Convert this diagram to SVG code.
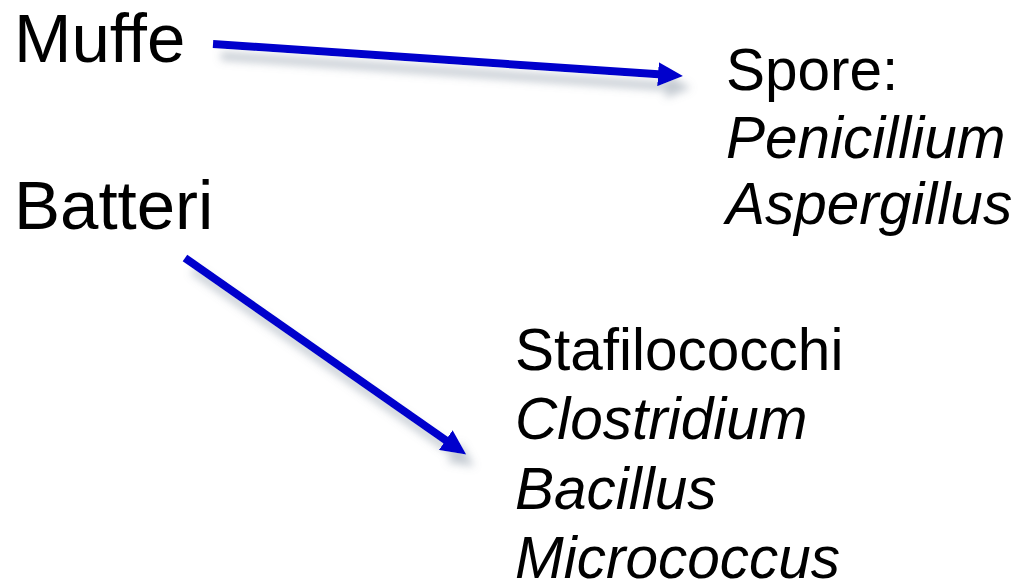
<svg xmlns="http://www.w3.org/2000/svg" width="1019" height="586" viewBox="0 0 1019 586">
  <style>
    .big { font-family: "Liberation Sans", Arial, sans-serif; font-size: 69px; fill: #000; }
    .lst { font-family: "Liberation Sans", Arial, sans-serif; font-size: 58.5px; fill: #000; }
    .it { font-style: italic; }
    .conn { stroke: #0000CC; stroke-width: 8; fill: none; marker-end: url(#head); }
  </style>
  <defs>
    <marker id="head" markerUnits="userSpaceOnUse" markerWidth="26" markerHeight="24" refX="4" refY="12" orient="auto">
      <path d="M0,0 L25,12 L0,24 z" fill="#0000CC"/>
    </marker>
    <filter id="shadow" x="-20%" y="-20%" width="140%" height="160%">
      <feDropShadow dx="8" dy="12" stdDeviation="4" flood-color="#7a8a9a" flood-opacity="0.45"/>
    </filter>
  </defs>
  <rect width="1019" height="586" fill="#fff"/>
  <g id="connectors" filter="url(#shadow)">
    <line class="conn" x1="213" y1="44" x2="662" y2="74.6"/>
    <line class="conn" x1="185" y1="258" x2="449" y2="442.5"/>
  </g>
  <g id="muffe"><text class="big" x="14" y="62">Muffe</text></g>
  <g id="batteri"><text class="big" x="14" y="229">Batteri</text></g>
  <g id="spore">
    <text class="lst" x="726" y="90">Spore:</text>
    <text class="lst it" x="726" y="158">Penicillium</text>
    <text class="lst it" x="726" y="224">Aspergillus</text>
  </g>
  <g id="batteri-list">
    <text class="lst" x="515" y="370">Stafilococchi</text>
    <text class="lst it" x="515" y="439">Clostridium</text>
    <text class="lst it" x="515" y="509">Bacillus</text>
    <text class="lst it" x="515" y="578">Micrococcus</text>
  </g>
</svg>
